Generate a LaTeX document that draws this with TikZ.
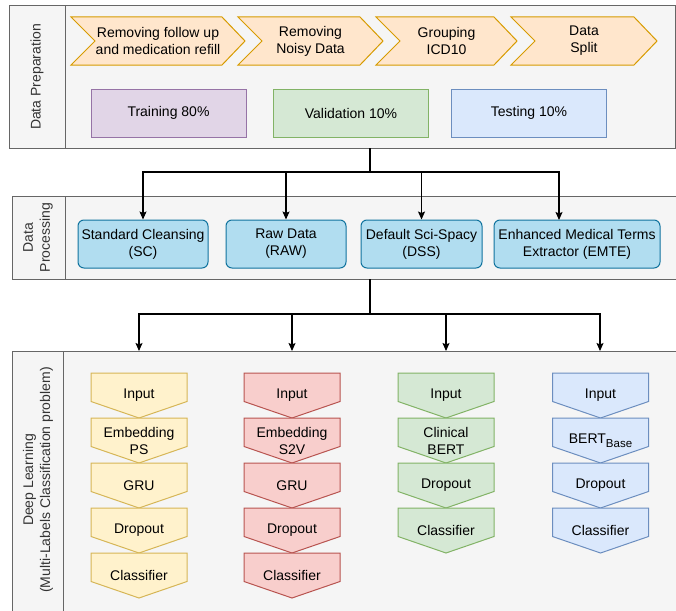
\documentclass[tikz,border=0pt]{standalone}
\usepackage{fontspec}
\setmainfont{Liberation Sans}
\usetikzlibrary{arrows.meta}
\definecolor{panelfill}{HTML}{F5F5F5}
\definecolor{panelline}{HTML}{666666}
\definecolor{labeltext}{HTML}{333333}
\definecolor{orfill}{HTML}{FFE6CC}\definecolor{orline}{HTML}{D79B00}
\definecolor{pufill}{HTML}{E1D5E7}\definecolor{puline}{HTML}{9673A6}
\definecolor{grfill}{HTML}{D5E8D4}\definecolor{grline}{HTML}{82B366}
\definecolor{blfill}{HTML}{DAE8FC}\definecolor{blline}{HTML}{6C8EBF}
\definecolor{yefill}{HTML}{FFF2CC}\definecolor{yeline}{HTML}{D6B656}
\definecolor{refill}{HTML}{F8CECC}\definecolor{reline}{HTML}{B85450}
\definecolor{cyfill}{HTML}{B1DDF0}\definecolor{cyline}{HTML}{10739E}
\tikzset{
  txt/.style={font=\fontsize{14}{17}\selectfont, align=center, text=black, inner sep=0pt},
  sidelabel/.style={font=\fontsize{14}{17}\selectfont, align=center, text=labeltext, rotate=90, inner sep=0pt},
  panelbox/.style={draw=panelline, fill=panelfill, line width=1pt},
  splitbox/.style={draw=#1line, fill=#1fill, line width=1pt, rectangle, minimum width=155pt, minimum height=48pt, inner sep=0pt, font=\fontsize{14}{17}\selectfont, align=center},
  procbox/.style={draw=cyline, fill=cyfill, line width=1pt, rounded corners=6pt, rectangle, minimum height=48pt, inner sep=0pt, font=\fontsize{14}{17}\selectfont, align=center},
  conn/.style={draw=black, line width=1.1pt, -{Stealth[length=8pt,width=7pt,inset=1.5pt]}},
  plainconn/.style={draw=black, line width=1.1pt},
}
% chevron: #1 name, #2 x1, #3 x2, #4 text
\newcommand{\mychev}[4]{%
  \path[draw=orline, fill=orfill, line width=1pt] (#2,17) -- ({#3-23},17) -- (#3,41) -- ({#3-23},65) -- (#2,65) -- ({#2+24},41) -- cycle;
  \node[txt] (#1) at ({(#2+#3)/2},41) {#4};}
% down pentagon: #1 name, #2 colour, #3 xcenter, #4 ytop, #5 text
\newcommand{\mypent}[5]{%
  \path[draw=#2line, fill=#2fill, line width=1pt] ({#3-48},#4) -- ({#3+48},#4) -- ({#3+48},{#4+28.5}) -- (#3,{#4+45}) -- ({#3-48},{#4+28.5}) -- cycle;
  \node[txt] (#1) at (#3,{#4+22.5}) {#5};}
\begin{document}
\begin{tikzpicture}[x=1pt,y=-1pt]
\useasboundingbox (0,0) rectangle (676,610);
\clip (0,0) rectangle (676,610);
\fill[white] (0,0) rectangle (676,610);

% ---------- Data Preparation panel
\path[panelbox] (9.5,5.5) rectangle (675,148);
\draw[panelline, line width=1pt] (65,5.5) -- (65,148);
\node[sidelabel] (lprep) at (37,77) {Data Preparation};
\coordinate (prepbot) at (370,148);

\mychev{c1}{71}{245}{Removing follow up\\and medication refill}
\mychev{c2}{238}{383}{Removing\\Noisy Data}
\mychev{c3}{376}{517}{Grouping\\ICD10}
\mychev{c4}{511}{657}{Data\\Split}

\node[splitbox=pu] (train) at (168.5,113) {Training 80\%};
\node[splitbox=gr] (valid) at (351,113) {Validation 10\%};
\node[splitbox=bl] (test) at (529,113) {Testing 10\%};

% ---------- Data Processing panel
\path[panelbox] (12,196) rectangle (678,279);
\draw[panelline, line width=1pt] (65.5,196) -- (65.5,279);
\node[sidelabel] (lproc) at (38,237.5) {Data\\Processing};
\coordinate (procbot) at (370,279);

\node[procbox, minimum width=130pt] (sc) at (143,244) {Standard Cleansing\\(SC)};
\node[procbox, minimum width=120pt] (raw) at (286,244) {Raw Data\\(RAW)};
\node[procbox, minimum width=121pt] (dss) at (421.5,244) {Default Sci-Spacy\\(DSS)};
\node[procbox, minimum width=166pt] (emte) at (577,244) {Enhanced Medical Terms\\Extractor (EMTE)};
\coordinate (emtein) at (559,220);

% connectors top -> processing
\coordinate (j1) at (370,172);
\draw[plainconn] (prepbot) -- (j1);
\draw[conn] (j1) -| (sc.north);
\draw[conn] (j1) -| (raw.north);
\draw[conn] (j1) -| (dss.north);
\draw[conn] (j1) -| (emtein);

% ---------- Deep Learning panel
\path[panelbox] (12.5,351) rectangle (680,614);
\draw[panelline, line width=1pt] (63.5,351) -- (63.5,614);
\node[sidelabel] (ldl) at (38,480) {Deep Learning\\(Multi-Labels Classification problem)};

\coordinate (a1) at (139,351);
\coordinate (a2) at (292,351);
\coordinate (a3) at (446,351);
\coordinate (a4) at (600,351);
\coordinate (j2) at (370,314);
\draw[plainconn] (procbot) -- (j2);
\draw[conn] (j2) -| (a1);
\draw[conn] (j2) -| (a2);
\draw[conn] (j2) -| (a3);
\draw[conn] (j2) -| (a4);

% yellow column
\mypent{y1}{ye}{139}{373}{Input}
\mypent{y2}{ye}{139}{418}{Embedding\\PS}
\mypent{y3}{ye}{139}{463}{GRU}
\mypent{y4}{ye}{139}{508}{Dropout}
\mypent{y5}{ye}{139}{553}{Classifier}
% red column
\mypent{r1}{re}{292}{373}{Input}
\mypent{r2}{re}{292}{418}{Embedding\\S2V}
\mypent{r3}{re}{292}{463}{GRU}
\mypent{r4}{re}{292}{508}{Dropout}
\mypent{r5}{re}{292}{553}{Classifier}
% green column
\mypent{g1}{gr}{446}{373}{Input}
\mypent{g2}{gr}{446}{418}{Clinical\\BERT}
\mypent{g3}{gr}{446}{463}{Dropout}
\mypent{g4}{gr}{446}{508}{Classifier}
% blue column
\mypent{b1}{bl}{600.5}{373}{Input}
\mypent{b2}{bl}{600.5}{418}{BERT\raisebox{-3.5pt}{\fontsize{11.5}{13}\selectfont Base}}
\mypent{b3}{bl}{600.5}{463}{Dropout}
\mypent{b4}{bl}{600.5}{508}{Classifier}
\end{tikzpicture}
\end{document}
